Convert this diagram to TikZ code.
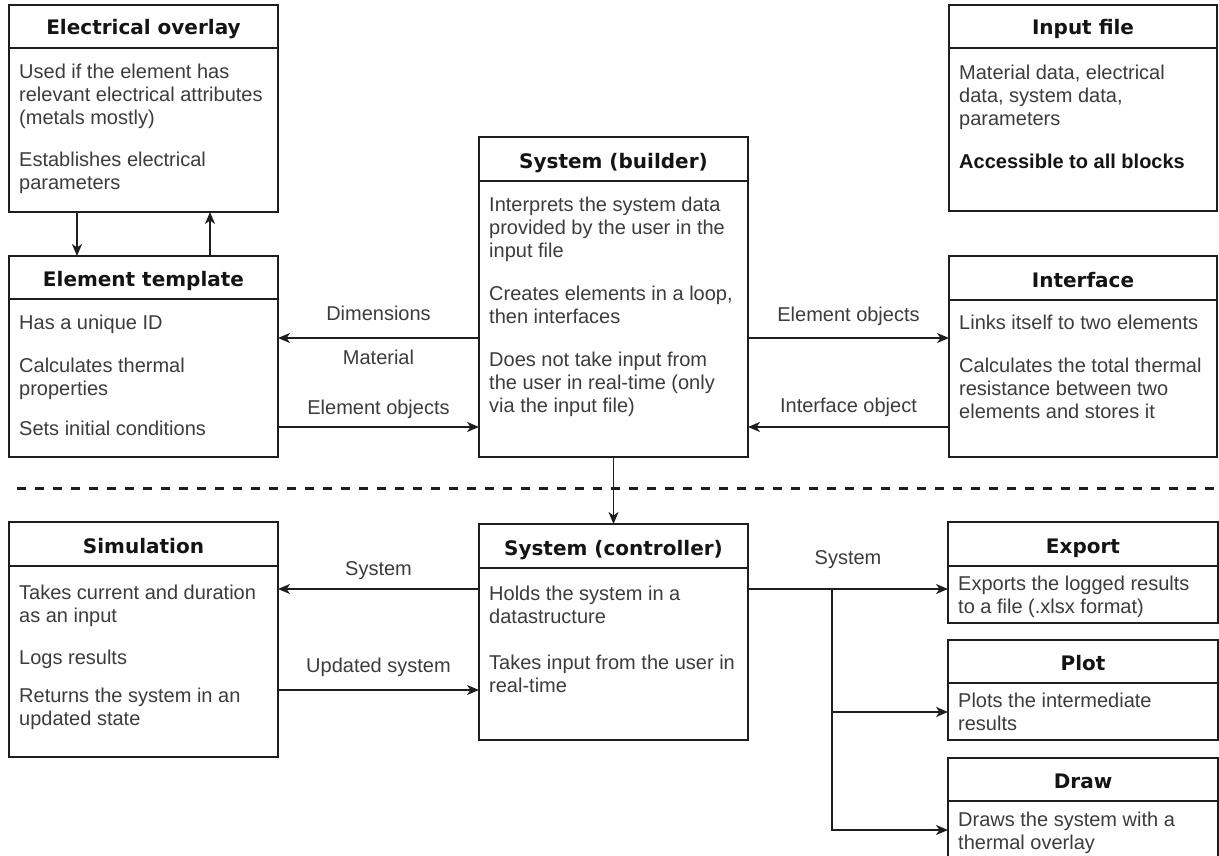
\documentclass[tikz,border=0pt]{standalone}
\usepackage{fontspec}
\setmainfont{Liberation Sans}
\newfontfamily\titlefont{DejaVu Sans}
\usetikzlibrary{arrows.meta,calc}
\definecolor{bodycol}{RGB}{60,60,60}
\definecolor{titlecol}{RGB}{20,20,20}
\definecolor{linecol}{RGB}{30,30,30}
\tikzset{
  boxsty/.style={draw=linecol, line width=1.6pt, inner sep=0pt, outer sep=0pt, fill=white},
  boxline/.style={draw=linecol, line width=1.6pt},
  titlesty/.style={anchor=base, inner sep=0pt, text=titlecol, font=\titlefont\bfseries\fontsize{20}{24}\selectfont},
  bodysty/.style={anchor=north west, inner sep=0pt, align=left, text=bodycol, font=\fontsize{20}{23}\selectfont},
  arr/.style={draw=linecol, line width=1.6pt, -{Stealth[length=12pt,width=10pt,inset=3.5pt]}},
  conn/.style={draw=linecol, line width=1.6pt},
  lbl/.style={anchor=base, inner sep=0pt, text=bodycol, font=\fontsize{20}{23}\selectfont},
  sepline/.style={draw=linecol, line width=3pt, dash pattern=on 9pt off 9pt},
}
% name, left, top, right, bottom, header, title, body top, body
\newcommand\umlbox[9]{%
  \node[boxsty, minimum width={#4-#2}, minimum height={#5-#3}, anchor=north west] (#1) at (#2,#3) {};
  \draw[boxline] ($(#1.north west)+(0,#6-#3)$) -- ($(#1.north east)+(0,#6-#3)$);
  \node[titlesty] (#1-t) at ({(#2+#4)/2},{#6-13}) {#7};
  \node[bodysty] (#1-b) at ({#2+10},{#8}) {\strut #9};
}
\begin{document}
\begin{tikzpicture}[x=1pt,y=-1pt]
\fill[white] (0,0) rectangle (1219,856);
\useasboundingbox (0,0) rectangle (1219,856);

% separator
\coordinate (d1) at (17,488);
\coordinate (d2) at (1219,488);
\draw[sepline] (d1) -- (d2);

\umlbox{eo}{9}{5}{278}{212}{48}{Electrical overlay}{62}{Used if the element has\\relevant electrical attributes\\(metals mostly)\\[19pt]Establishes electrical\\parameters}

\umlbox{inp}{949}{5}{1217}{211}{48}{Input file}{63}{Material data, electrical\\data, system data,\\parameters\\[20pt]{\bfseries\color{titlecol}Accessible to all blocks}}

\umlbox{bld}{479}{137}{748}{457}{181}{System (builder)}{195}{Interprets the system data\\provided by the user in the\\input file\\[20pt]Creates elements in a loop,\\then interfaces\\[20pt]Does not take input from\\the user in real-time (only\\via the input file)}

\umlbox{et}{9}{256}{278}{457}{299}{Element template}{313}{Has a unique ID\\[20pt]Calculates thermal\\properties\\[17pt]Sets initial conditions}

\umlbox{intf}{949}{256}{1217}{457}{300}{Interface}{313}{Links itself to two elements\\[20pt]Calculates the total thermal\\resistance between two\\elements and stores it}

\umlbox{sim}{9}{522}{278}{757}{566}{Simulation}{583}{Takes current and duration\\as an input\\[19pt]Logs results\\[15pt]Returns the system in an\\updated state}

\umlbox{ctrl}{479}{524}{748}{740}{568}{System (controller)}{584}{Holds the system in a\\datastructure\\[23pt]Takes input from the user in\\real-time}

\umlbox{exp}{948}{522}{1218}{623}{566}{Export}{574}{Exports the logged results\\to a file (.xlsx format)}

\umlbox{plt}{948}{640}{1218}{740}{683}{Plot}{691}{Plots the intermediate\\results}

\umlbox{drw}{948}{758}{1218}{875}{801}{Draw}{810}{Draws the system with a\\thermal overlay}

% level coordinates
\coordinate (yA) at (0,338);
\coordinate (yB) at (0,427);
\coordinate (yC) at (0,589);
\coordinate (yD) at (0,690);
\coordinate (yP) at (0,712);
\coordinate (yQ) at (0,830);
\coordinate (br) at (832,589);

% electrical overlay <-> element template
\draw[arr] ($(eo.south west)+(68,0)$) -- ($(et.north west)+(68,0)$);
\draw[arr] ($(et.north west)+(201,0)$) -- ($(eo.south west)+(201,0)$);

% builder <-> element template
\draw[arr] (bld.west |- yA) -- node[lbl, yshift=18pt] (lDim) {Dimensions} node[lbl, yshift=-26pt] (lMat) {Material} (et.east |- yA);
\draw[arr] (et.east |- yB) -- node[lbl, yshift=13pt] (lEo) {Element objects} (bld.west |- yB);

% builder <-> interface
\draw[arr] (bld.east |- yA) -- node[lbl, yshift=17pt] (lEo2) {Element objects} (intf.west |- yA);
\draw[arr] (intf.west |- yB) -- node[lbl, yshift=15pt] (lIo) {Interface object} (bld.east |- yB);

% builder -> controller
\draw[arr] (bld.south) -- (ctrl.north);

% controller <-> simulation
\draw[arr] (ctrl.west |- yC) -- node[lbl, yshift=14pt] (lSys) {System} (sim.east |- yC);
\draw[arr] (sim.east |- yD) -- node[lbl, yshift=18pt] (lUpd) {Updated system} (ctrl.west |- yD);

% controller -> export / plot / draw
\draw[arr] (ctrl.east |- yC) -- node[lbl, yshift=25pt] (lSys2) {System} (exp.west |- yC);
\draw[arr] (br) |- (drw.west |- yQ);
\draw[arr] (br |- yP) -- (plt.west |- yP);
\end{tikzpicture}
\end{document}
